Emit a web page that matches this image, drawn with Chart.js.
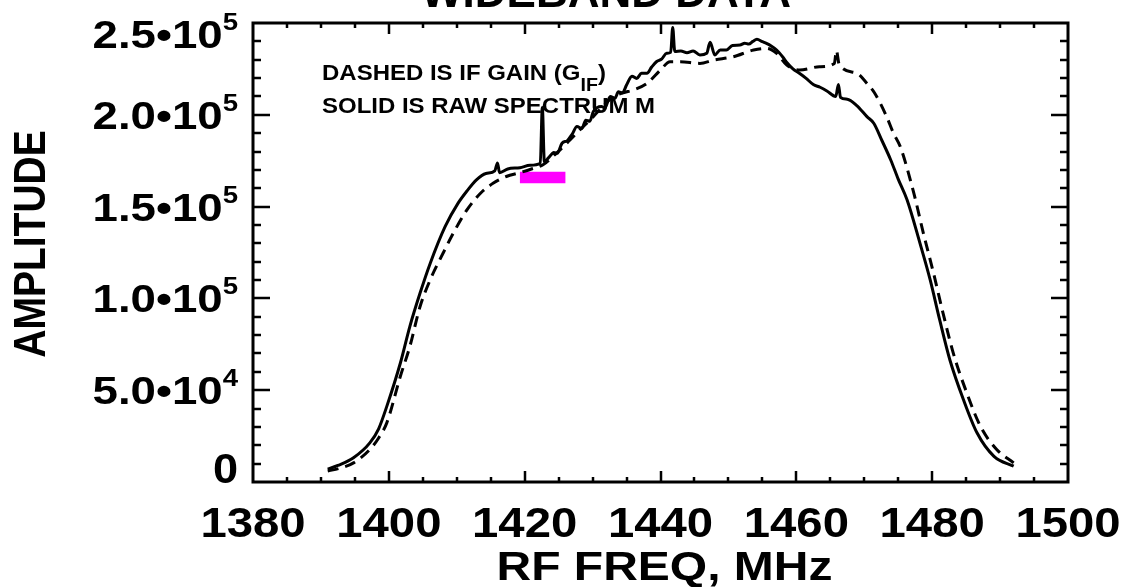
<!DOCTYPE html>
<html>
<head>
<meta charset="utf-8">
<script src="https://cdn.jsdelivr.net/npm/chart.js@4.4.1/dist/chart.umd.min.js"></script>
<style>
html,body{margin:0;padding:0;background:#fff;}
#wrap{position:relative;width:1135px;height:587px;}
</style>
</head>
<body>
<div id="wrap"><canvas id="c"></canvas></div>
<script>
// ---------------- DATA ----------------
const chartTitle = "WIDEBAND DATA";
const xAxisTitle = "RF FREQ, MHz";
const yAxisTitle = "AMPLITUDE";
const noteLine1 = ["DASHED IS IF GAIN (G", "IF", ")"];
const noteLine2 = "SOLID IS RAW SPECTRUM M";

// solid: raw spectrum M (MHz, amplitude)
const solidFreq = [1391.0,1392.5,1394.8,1397.2,1398.5,1399.7,1401.7,1403.1,1404.6,1406.1,1408.3,1410.2,1411.5,1412.9,1414.3,1415.6,1416.0,1416.3,1417.5,1419.3,1420.8,1422.3,1422.6,1422.9,1423.5,1424.3,1424.8,1425.5,1426.3,1427.0,1427.7,1428.4,1429.0,1429.6,1430.1,1431.3,1431.8,1432.6,1433.3,1433.8,1434.4,1435.0,1435.8,1436.5,1437.2,1438.0,1438.7,1439.4,1440.2,1440.9,1441.5,1441.8,1442.1,1443.0,1443.9,1444.8,1445.8,1446.8,1447.3,1448.0,1448.8,1449.7,1450.6,1451.7,1452.4,1453.0,1453.6,1454.2,1455.0,1455.6,1456.3,1457.1,1458.0,1458.6,1459.5,1460.5,1461.4,1462.5,1463.5,1464.5,1465.8,1466.2,1466.5,1467.5,1468.9,1470.4,1471.4,1472.6,1473.9,1475.0,1476.3,1478.2,1479.7,1481.1,1482.6,1484.6,1486.6,1489.1,1492.0];
const solidAmp  = [7000,9000,13200,21300,29000,41200,64800,84800,102900,119200,139200,151900,158500,164600,168000,169500,173800,168500,170500,171200,172500,173600,204000,174500,176500,179500,179000,184500,186000,189500,193600,192500,197000,196500,201700,204500,203800,209900,209000,212500,212000,216200,221000,219800,222600,222600,226000,228900,230500,233500,234000,247500,234500,234800,233800,234800,232600,233500,239500,232600,235300,235300,237800,238000,239000,238500,240000,241100,239800,238900,237500,235300,231500,228500,225000,222500,220000,216500,215000,213000,210000,216500,209500,208500,205000,199000,195400,186000,175400,165000,153700,130100,110200,88400,66600,44900,26800,14000,8600];

// dashed: IF gain G_IF
const dashedFreq = [1391.0,1392.8,1394.8,1397.2,1398.5,1399.7,1401.7,1403.1,1404.6,1406.1,1408.0,1409.5,1411.5,1413.5,1415.4,1417.3,1419.3,1421.0,1422.7,1424.5,1426.2,1428.2,1430.1,1431.6,1433.1,1434.5,1436.0,1438.0,1440.0,1441.4,1442.9,1445.8,1447.8,1450.7,1453.7,1455.6,1457.1,1458.6,1460.5,1463.4,1465.6,1465.9,1466.3,1468.9,1470.4,1471.5,1473.3,1474.3,1475.3,1477.3,1478.7,1480.2,1481.6,1483.1,1485.1,1487.1,1489.5,1492.0];
const dashedAmp  = [6000,7500,10400,17700,24000,32200,57600,73900,95600,110200,124700,135600,148200,157300,162800,166400,168500,170500,172800,178500,184500,192000,199000,205000,209900,212000,213500,217100,224400,228900,228900,228000,229800,231600,235300,236200,233500,227100,224400,226200,228000,235000,227500,222600,217100,212000,199000,190000,182700,157300,135600,113800,92000,70300,48500,30400,17700,10400];

// magenta band marker
const markerFreq = [1419.3, 1426.0];
const markerAmp  = [165900, 165900];

// axes
const xMin = 1380, xMax = 1500;
const yMin = 0, yMax = 250000;
const xMajorTicks = [1380,1400,1420,1440,1460,1480,1500];
const xMinorStep = 5;
const yMajorTicks = [0,50000,100000,150000,200000,250000];
const yMinorStep = 10000;
const yTickMantissa = ["0","5.0","1.0","1.5","2.0","2.5"];
const yTickExponent = ["","4","5","5","5","5"];

// ---------------- helpers ----------------
const FONT = '"Liberation Sans", Arial, Helvetica, sans-serif';
function pts(xs, ys){ return xs.map((x,i)=>({x:x, y:ys[i]})); }
function stretchText(ctx, s, x, y, size, sx, align, baseline){
  ctx.save();
  ctx.font = 'bold ' + size + 'px ' + FONT;
  ctx.textAlign = 'left';
  ctx.textBaseline = baseline || 'alphabetic';
  const w = ctx.measureText(s).width * sx;
  let x0 = x;
  if (align === 'center') x0 = x - w/2;
  else if (align === 'right') x0 = x - w;
  ctx.translate(x0, y);
  ctx.scale(sx, 1);
  ctx.fillStyle = '#000';
  ctx.fillText(s, 0, 0);
  ctx.restore();
  return w;
}

const decor = {
  id: 'decor',
  afterDraw(chart){
    const ctx = chart.ctx;
    const xs = chart.scales.x, ys = chart.scales.y;
    const a = chart.chartArea;
    ctx.save();
    ctx.strokeStyle = '#000';
    ctx.lineCap = 'butt';
    ctx.lineWidth = 3;
    ctx.strokeRect(a.left, a.top, a.right - a.left, a.bottom - a.top);
    ctx.lineWidth = 2.5;
    ctx.beginPath();
    for (let v = xMin + xMinorStep; v < xMax; v += xMinorStep){
      const px = Math.round(xs.getPixelForValue(v));
      const major = xMajorTicks.indexOf(v) >= 0;
      const len = major ? 11 : 5;
      ctx.moveTo(px, a.bottom); ctx.lineTo(px, a.bottom - len);
      ctx.moveTo(px, a.top); ctx.lineTo(px, a.top + len);
    }
    for (let v = yMin + yMinorStep; v < yMax; v += yMinorStep){
      const py = Math.round(ys.getPixelForValue(v));
      const major = yMajorTicks.indexOf(v) >= 0;
      const len = major ? 17 : 8;
      ctx.moveTo(a.left, py); ctx.lineTo(a.left + len, py);
      ctx.moveTo(a.right, py); ctx.lineTo(a.right - len, py);
    }
    ctx.stroke();
    ctx.restore();

    xMajorTicks.forEach(v => {
      const px = xs.getPixelForValue(v);
      stretchText(ctx, String(v), px, 537, 43, 1.1, 'center');
    });
    const rightEdge = a.left - 15;
    yMajorTicks.forEach((v, i) => {
      const py = ys.getPixelForValue(v);
      const m = yTickMantissa[i], e = yTickExponent[i];
      if (!e){
        stretchText(ctx, m, rightEdge, a.bottom + 1, 43, 1.05, 'right');
        return;
      }
      let base = py + 14;
      if (i === yMajorTicks.length - 1) base = a.top + 25;
      const we = stretchText(ctx, e, rightEdge, base - 18, 24, 1.15, 'right');
      stretchText(ctx, m + '\u2022' + '10', rightEdge - we, base, 38, 1.2, 'right');
    });
    stretchText(ctx, xAxisTitle, (a.left + a.right)/2 + 4, 580, 40, 1.2, 'center');
    ctx.save();
    ctx.translate(31, 244);
    ctx.rotate(-Math.PI/2);
    ctx.scale(1, 1.15);
    ctx.font = 'bold 39px ' + FONT;
    ctx.textAlign = 'center';
    ctx.textBaseline = 'middle';
    ctx.fillStyle = '#000';
    ctx.fillText(yAxisTitle, 0, 1);
    ctx.restore();
    stretchText(ctx, chartTitle, 606, 7, 44, 1.0, 'center');
    let x = 322;
    x += stretchText(ctx, noteLine1[0], x, 80, 22, 1.09, 'left');
    x += stretchText(ctx, noteLine1[1], x, 91, 18, 1.09, 'left');
    stretchText(ctx, noteLine1[2], x, 80, 22, 1.09, 'left');
    stretchText(ctx, noteLine2, 322, 113, 22, 1.09, 'left');
  }
};

new Chart(document.getElementById('c'), {
  type: 'scatter',
  data: {
    datasets: [
      { label: 'marker', data: pts(markerFreq, markerAmp), showLine: true, borderColor: '#ff00ff',
        borderWidth: 11.5, borderCapStyle: 'butt', pointRadius: 0, order: 3 },
      { label: 'G_IF', data: pts(dashedFreq, dashedAmp), showLine: true, borderColor: '#000',
        borderWidth: 3, borderDash: [11, 7], pointRadius: 0, cubicInterpolationMode: 'monotone', order: 2 },
      { label: 'M', data: pts(solidFreq, solidAmp), showLine: true, borderColor: '#000',
        borderWidth: 3, pointRadius: 0, cubicInterpolationMode: 'monotone', order: 1 }
    ]
  },
  options: {
    responsive: true,
    maintainAspectRatio: false,
    animation: false,
    devicePixelRatio: 1,
    layout: { padding: { left: 253, right: 67, top: 23, bottom: 105 } },
    plugins: { legend: { display: false }, tooltip: { enabled: false }, title: { display: false } },
    scales: {
      x: { type: 'linear', min: xMin, max: xMax, display: false },
      y: { type: 'linear', min: yMin, max: yMax, display: false }
    }
  },
  plugins: [decor]
});
</script>
</body>
</html>
